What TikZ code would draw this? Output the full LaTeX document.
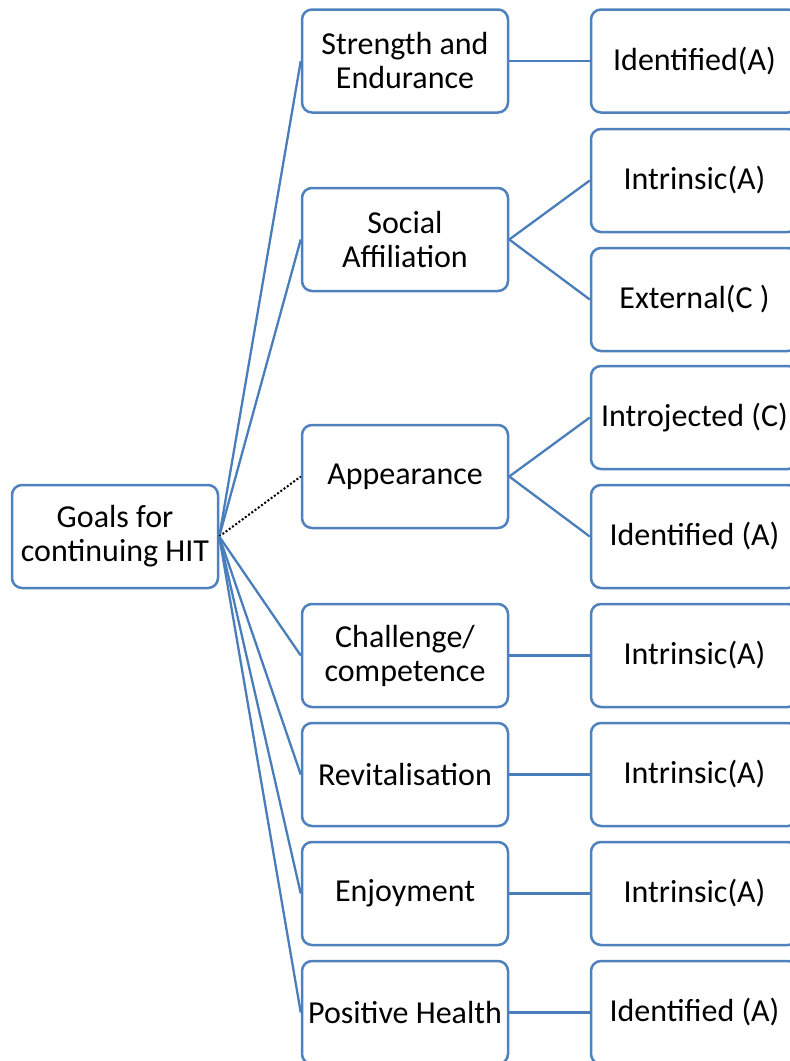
\documentclass[tikz,border=0pt]{standalone}
\usepackage{fontspec}
\setmainfont{Carlito}
\definecolor{boxblue}{RGB}{79,129,189}
\definecolor{lineblue}{RGB}{74,126,187}
\begin{document}
\begin{tikzpicture}[x=1pt,y=-1pt,
  box/.style={draw=boxblue, line width=2.5pt, rounded corners=10pt, fill=white,
    minimum width=206pt, minimum height=103pt, align=center, inner sep=0pt,
    font=\fontsize{32}{34}\selectfont},
  rbox/.style={box, minimum width=207pt},
  link/.style={draw=lineblue, line width=2.3pt},
  dotlink/.style={draw=black, line width=2pt, dotted}]
\useasboundingbox (0,0) rectangle (790,1061);
\clip (0,0) rectangle (790,1061);
% root
\node[box] (root) at (115,536.5) {Goals for\\continuing HIT};
% middle column
\node[box] (m1) at (405,61)     {Strength and\\Endurance};
\node[box] (m2) at (405,239.5)  {Social\\Affiliation};
\node[box] (m3) at (405,476.5)  {Appearance};
\node[box] (m4) at (405,655.5)  {Challenge/\\competence};
\node[box] (m5) at (405,774.5)  {Revitalisation};
\node[box] (m6) at (405,893.5)  {Enjoyment};
\node[box] (m7) at (405,1012.5) {Positive Health};
% right column
\node[rbox] (r1) at (694.5,61)     {Identified(A)};
\node[rbox] (r2) at (694.5,180.5)  {Intrinsic(A)};
\node[rbox] (r3) at (694.5,299.5)  {External(C )};
\node[rbox] (r4) at (694.5,417.5)  {Introjected (C)};
\node[rbox] (r5) at (694.5,536.5)  {Identified (A)};
\node[rbox] (r6) at (694.5,655.5)  {Intrinsic(A)};
\node[rbox] (r7) at (694.5,774.5)  {Intrinsic(A)};
\node[rbox] (r8) at (694.5,893.5)  {Intrinsic(A)};
\node[rbox] (r9) at (694.5,1012.5) {Identified (A)};
% root to middle
\draw[link] (root.east) -- (m1.west);
\draw[link] (root.east) -- (m2.west);
\draw[dotlink] (root.east) -- (m3.west);
\draw[link] (root.east) -- (m4.west);
\draw[link] (root.east) -- (m5.west);
\draw[link] (root.east) -- (m6.west);
\draw[link] (root.east) -- (m7.west);
% middle to right
\draw[link] (m1.east) -- (r1.west);
\draw[link] (m2.east) -- (r2.west);
\draw[link] (m2.east) -- (r3.west);
\draw[link] (m3.east) -- (r4.west);
\draw[link] (m3.east) -- (r5.west);
\draw[link] (m4.east) -- (r6.west);
\draw[link] (m5.east) -- (r7.west);
\draw[link] (m6.east) -- (r8.west);
\draw[link] (m7.east) -- (r9.west);
\end{tikzpicture}
\end{document}
